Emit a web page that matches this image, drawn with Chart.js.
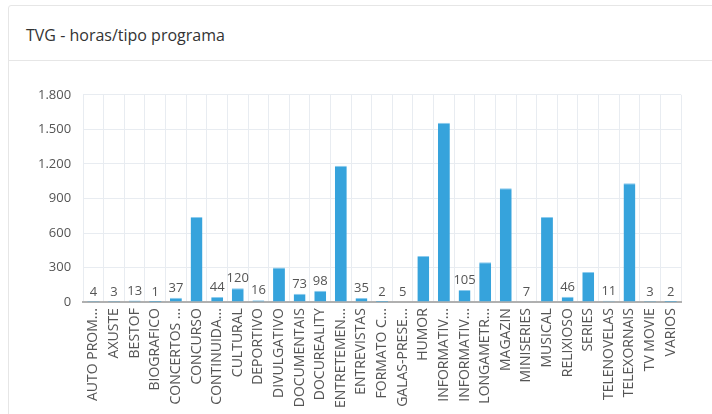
<!DOCTYPE html>
<html>
<head>
<meta charset="utf-8">
<script src="https://cdn.jsdelivr.net/npm/chart.js@4"></script>
<style>
  html, body { margin: 0; padding: 0; background: #fff; }
  body { width: 712px; height: 414px; overflow: hidden; position: relative; font-family: "Open Sans", "Noto Sans", sans-serif; }
  .card { position: absolute; left: 8px; top: 5px; width: 720px; height: 420px; border: 1px solid #e6e6e6; border-radius: 3px; box-sizing: border-box; }
  .card h1 { margin: 0; position: absolute; left: 17px; top: 18px; font-size: 16px; font-weight: 400; color: #333; }
  .card .sep { position: absolute; left: 0; right: 0; top: 54px; border-top: 1px solid #e6e6e6; }
  .wrap { position: absolute; left: 26px; top: 75px; width: 671px; height: 339px; }
</style>
</head>
<body>
<div class="card">
  <h1>TVG - horas/tipo programa</h1>
  <div class="sep"></div>
</div>
<div class="wrap"><canvas id="chart"></canvas></div>
<script>
// categories (as shown on the axis, already truncated)
const labels = [
  "AUTO PROM...", "AXUSTE", "BESTOF", "BIOGRAFICO", "CONCERTOS ...", "CONCURSO",
  "CONTINUIDA...", "CULTURAL", "DEPORTIVO", "DIVULGATIVO", "DOCUMENTAIS",
  "DOCUREALITY", "ENTRETEMEN...", "ENTREVISTAS", "FORMATO C...", "GALAS-PRESE...",
  "HUMOR", "INFORMATIV...", "INFORMATIV...", "LONGAMETR...", "MAGAZIN",
  "MINISERIES", "MUSICAL", "RELIXIOSO", "SERIES", "TELENOVELAS", "TELEXORNAIS",
  "TV MOVIE", "VARIOS"
];

// hours per programme type
const hours = [
  4, 3, 13, 1, 37, 740,
  44, 120, 16, 300, 73,
  98, 1185, 35, 2, 5,
  400, 1557, 105, 347, 989,
  7, 740, 46, 262, 11, 1032,
  3, 2
];

const yTicks = [0, 300, 600, 900, 1200, 1500, 1800];

function fmtNum(v) {
  return String(v).replace(/\B(?=(\d{3})+(?!\d))/g, ".");
}

// value labels only on the short bars
const valueLabels = {
  id: "valueLabels",
  afterDatasetsDraw(chart) {
    const ctx = chart.ctx;
    const meta = chart.getDatasetMeta(0);
    ctx.save();
    ctx.font = '13px "Open Sans", sans-serif';
    ctx.fillStyle = "#555";
    ctx.textAlign = "center";
    ctx.textBaseline = "bottom";
    meta.data.forEach((bar, i) => {
      const v = hours[i];
      if (v >= 200) return;
      ctx.fillText(fmtNum(v), bar.x, bar.y - 3);
    });
    ctx.restore();
  }
};

new Chart(document.getElementById("chart"), {
  type: "bar",
  data: {
    labels: labels,
    datasets: [{
      data: hours,
      backgroundColor: "#36a3dc",
      borderColor: "#8ccbee",
      borderWidth: { top: 1, left: 0, right: 0, bottom: 0 },
      barPercentage: 0.72,
      categoryPercentage: 0.8
    }]
  },
  options: {
    responsive: true,
    maintainAspectRatio: false,
    animation: false,
    layout: { padding: { top: 4, right: 16, left: 0, bottom: 0 } },
    plugins: { legend: { display: false }, tooltip: { enabled: false } },
    scales: {
      x: {
        grid: { color: "#e8ecf1", offset: true, drawTicks: false },
        border: { color: "#b0b0b0", width: 2 },
        ticks: {
          color: "#555",
          font: { size: 14, family: '"Open Sans", sans-serif' },
          minRotation: 90, maxRotation: 90, autoSkip: false, padding: 6
        }
      },
      y: {
        min: 0, max: 1800,
        afterBuildTicks(axis) { axis.ticks = yTicks.map(v => ({ value: v })); },
        grid: { color: "#e8ecf1", drawTicks: false },
        border: { display: false },
        ticks: {
          color: "#555",
          font: { size: 13, family: '"Open Sans", sans-serif' },
          padding: 12,
          callback: v => fmtNum(v)
        }
      }
    }
  },
  plugins: [valueLabels]
});
</script>
</body>
</html>
